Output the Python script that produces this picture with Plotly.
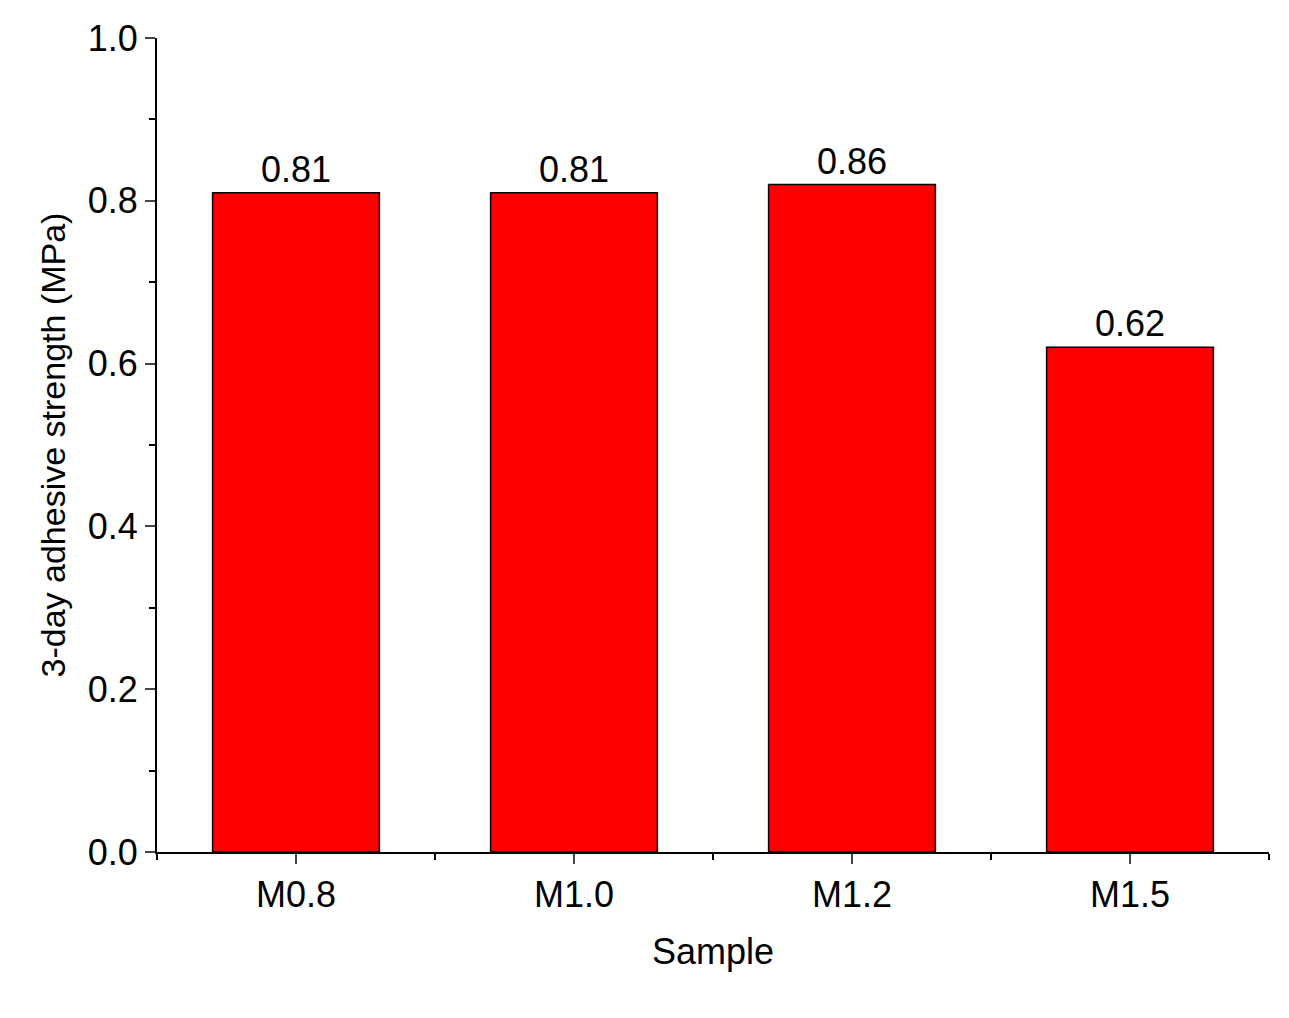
import plotly.graph_objects as go

samples = ["M0.8", "M1.0", "M1.2", "M1.5"]
strength = [0.81, 0.81, 0.82, 0.62]
labels = ["0.81", "0.81", "0.86", "0.62"]

fig = go.Figure(go.Bar(
    x=list(range(len(samples))), y=strength, width=0.6,
    marker=dict(color="#ff0000", line=dict(color="black", width=1.5)),
    text=labels, textposition="outside", cliponaxis=False,
    textfont=dict(size=36, color="black"),
))
fig.update_layout(
    width=1289, height=1018, plot_bgcolor="white", paper_bgcolor="white",
    margin=dict(l=149, r=28, t=30, b=174, autoexpand=False),
    font=dict(family="Liberation Sans, Arial", size=36, color="black"),
    showlegend=False,
)
fig.update_xaxes(
    range=[-0.5, 3.5], tickvals=list(range(len(samples))), ticktext=samples,
    tickfont=dict(size=36),
    showline=True, linecolor="black", linewidth=2, ticks="outside", ticklen=10, tickwidth=2,
    minor=dict(tickvals=[-0.5, 0.5, 1.5, 2.5, 3.5], ticks="outside", ticklen=6, tickwidth=2, tickcolor="black"),
    title=dict(text="Sample", standoff=25, font=dict(size=36)), showgrid=False, zeroline=False,
)
fig.update_yaxes(
    range=[0, 1.0], tickvals=[0, 0.2, 0.4, 0.6, 0.8, 1.0], tickformat=".1f",
    tickfont=dict(size=36),
    showline=True, linecolor="black", linewidth=2, ticks="outside", ticklen=10, tickwidth=2,
    minor=dict(dtick=0.1, ticks="outside", ticklen=6, tickwidth=2, tickcolor="black", showgrid=False),
    title=dict(text="3-day adhesive strength (MPa)", standoff=12, font=dict(size=34)), showgrid=False, zeroline=False,
)
fig.write_html("out.html")
